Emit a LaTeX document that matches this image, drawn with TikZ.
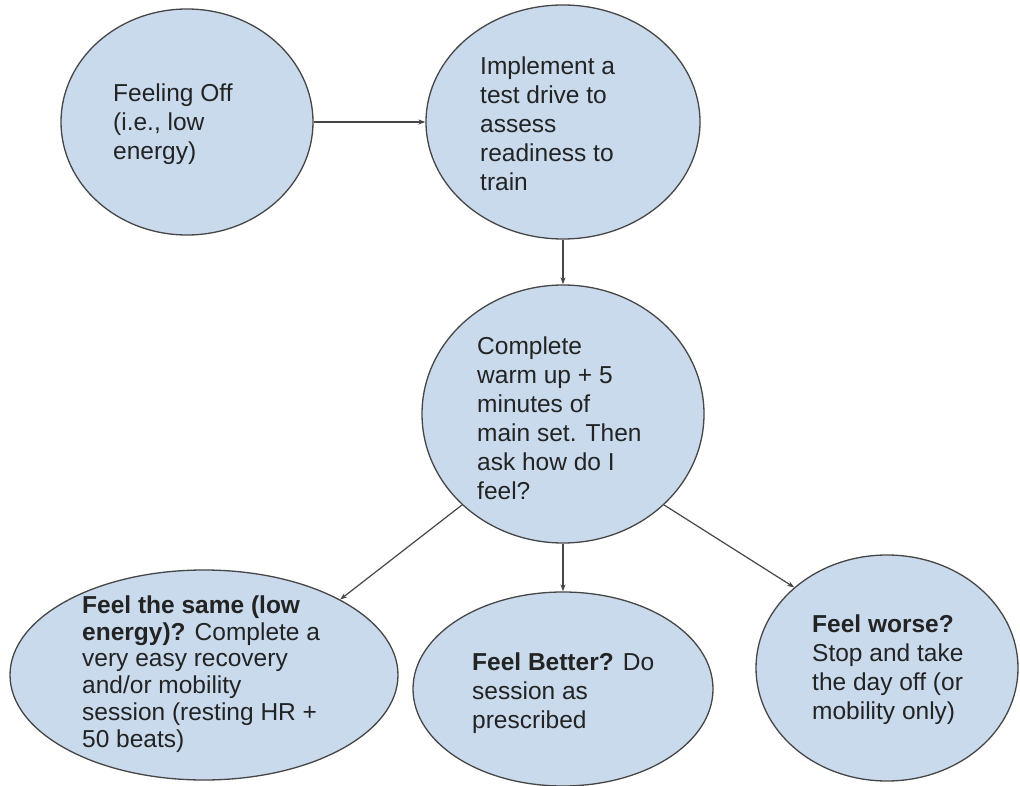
\documentclass[tikz,border=0pt]{standalone}
\usepackage{fontspec}
\setmainfont{Liberation Sans}
\usetikzlibrary{shapes.geometric,arrows.meta}
\definecolor{bubble}{RGB}{201,218,236}
\definecolor{edge}{RGB}{70,70,70}
\definecolor{ink}{RGB}{35,35,35}
\tikzset{
  bubble/.style={ellipse,draw=edge,line width=1.3pt,fill=bubble,inner sep=0pt},
  label/.style={anchor=west,align=left,inner sep=0pt,text=ink,font=\fontsize{24.5}{29}\selectfont},
  tightlabel/.style={label,font=\fontsize{24.5}{26.7}\selectfont},
  link/.style={draw=edge,line width=1.2pt,-{Stealth[length=7pt,width=5pt]}}
}
\begin{document}
\begin{tikzpicture}[x=1pt,y=-1pt]
\useasboundingbox[fill=white] (0,0) rectangle (1020,786);
\node[bubble,minimum width=252pt,minimum height=226pt] (n1) at (187,122) {};
\node[bubble,minimum width=274pt,minimum height=234pt] (n2) at (563,122) {};
\node[bubble,minimum width=282pt,minimum height=258pt] (n3) at (563,414) {};
\node[bubble,minimum width=388pt,minimum height=210pt] (n4) at (204,675) {};
\node[bubble,minimum width=300pt,minimum height=194pt] (n5) at (563,689) {};
\node[bubble,minimum width=262pt,minimum height=226pt] (n6) at (887,668) {};

\node[label] (t1) at (113,124) {Feeling Off\\(i.e., low\\energy)};
\node[label] (t2) at (480,124) {Implement a\\test drive to\\assess\\readiness to\\train};
\node[label] (t3) at (477,418) {Complete\\warm up + 5\\minutes of\\main set. Then\\ask how do I\\feel?};
\node[tightlabel] (t4) at (82,674) {\textbf{Feel the same (low}\\\textbf{energy)?} Complete a\\very easy recovery\\and/or mobility\\session (resting HR +\\50 beats)};
\node[label] (t5) at (472,693) {\textbf{Feel Better?} Do\\session as\\prescribed};
\node[label] (t6) at (812,670) {\textbf{Feel worse?}\\Stop and take\\the day off (or\\mobility only)};

\draw[link] (n1.east) -- (n2.west);
\draw[link] (n2.south) -- (n3.north);
\draw[link] (n3.222) -- (n4.29);
\draw[link] (n3.south) -- (n5.north);
\draw[link] (n3.318) -- (n6.139);
\end{tikzpicture}
\end{document}
